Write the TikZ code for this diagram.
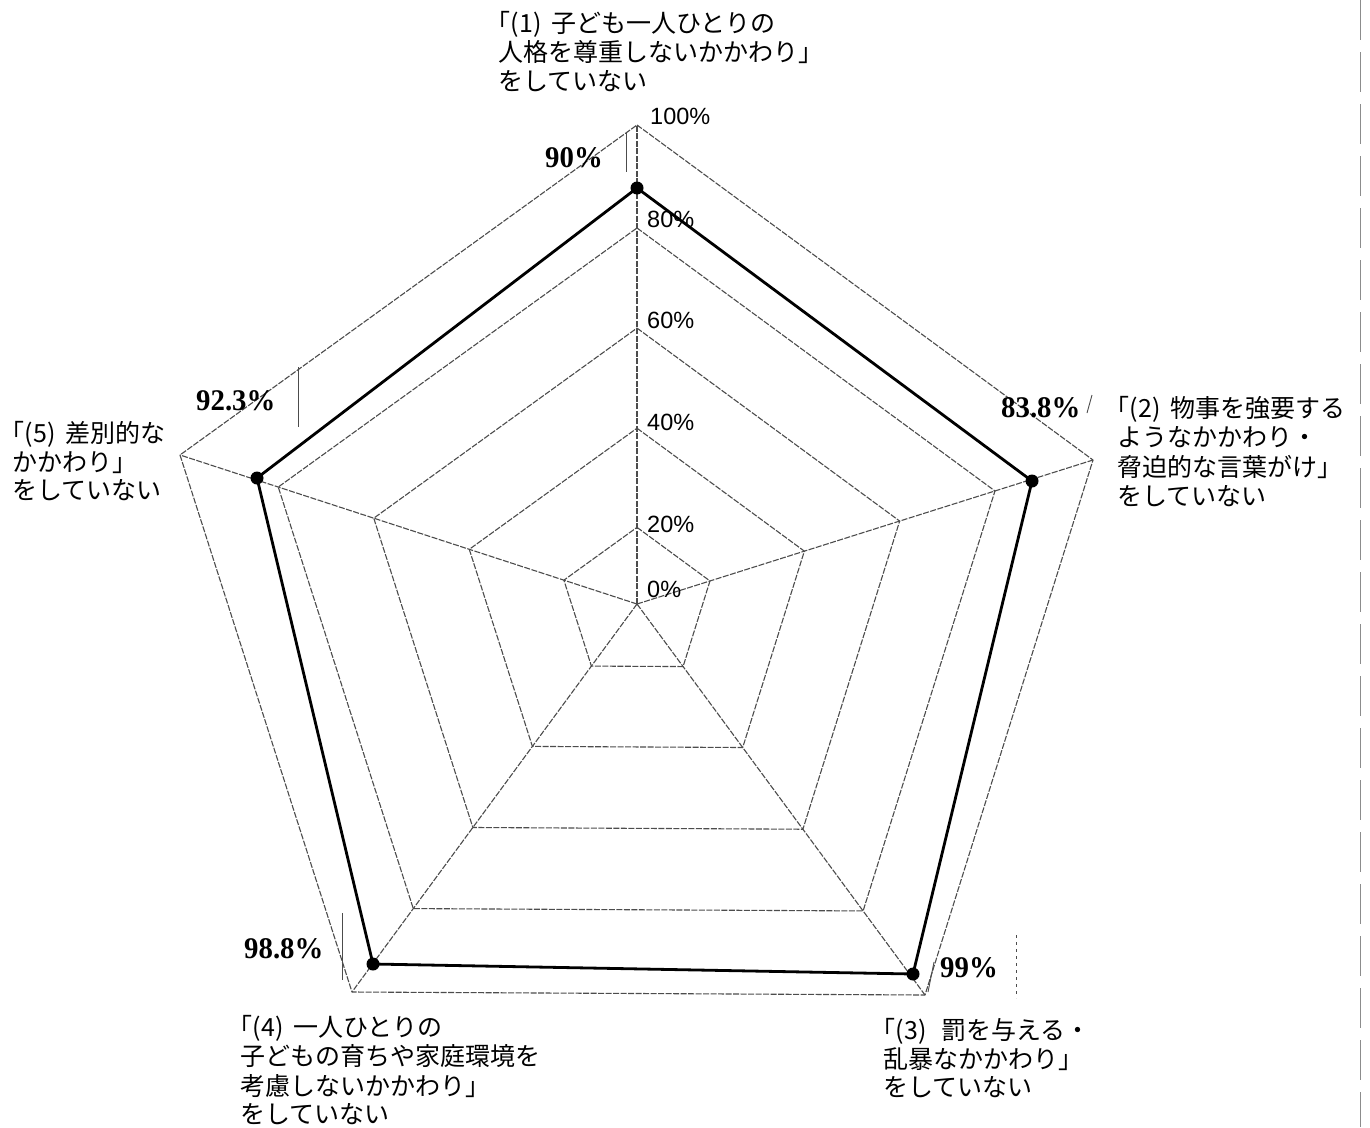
\documentclass[tikz,border=0pt]{standalone}
\usepackage{fontspec}
\usepackage{graphicx}
\setmainfont{Liberation Serif}
\newfontfamily\jp{Noto Sans CJK JP}
\newfontfamily\axisfont{Liberation Sans}
\newfontfamily\valfont{Liberation Serif}
\usetikzlibrary{calc}
\tikzset{
  gridline/.style={black!70, line width=1.1pt, dash pattern=on 6pt off 1.5pt, line join=round},
  dataline/.style={black, line width=2.8pt, line join=round},
  datapt/.style={circle, fill=black, inner sep=0pt, minimum size=13pt},
  jplabel/.style={font=\jp\fontsize{25}{#1}\selectfont, anchor=base west, inner sep=0pt},
  jplabel/.default=28.5,
  axislab/.style={font=\axisfont\fontsize{23.5}{26}\selectfont, anchor=base west, inner sep=0pt},
  vallab/.style={font=\valfont\bfseries\fontsize{30}{32}\selectfont, anchor=base west, inner sep=0pt},
  artifact/.style={black!70, line width=0.9pt},
}
\newcommand{\vallabel}[1]{\scalebox{0.96}[1]{#1}}
\begin{document}
\begin{tikzpicture}[x=1pt,y=-1pt]
\useasboundingbox[fill=white] (0,0) rectangle (1370,1127);

% axes geometry
\coordinate (C) at (637,604);
\coordinate (A1) at (637,125);
\coordinate (A2) at (1093,460);
\coordinate (A3) at (925,995);
\coordinate (A4) at (352,992);
\coordinate (A5) at (180,455);

% rings
\foreach \f in {0.16,0.367,0.576,0.785,1}{
  \draw[gridline] ($(C)!\f!(A1)$) -- ($(C)!\f!(A2)$) -- ($(C)!\f!(A3)$)
     -- ($(C)!\f!(A4)$) -- ($(C)!\f!(A5)$) -- cycle;
}
% spokes
\foreach \i in {1,...,5}{
  \draw[gridline] (C) -- (A\i);
}

% axis tick labels
\node[axislab] (t100) at (650,124) {100\%};
\node[axislab] (t80)  at (647,227) {80\%};
\node[axislab] (t60)  at (647,328) {60\%};
\node[axislab] (t40)  at (647,430) {40\%};
\node[axislab] (t20)  at (647,532) {20\%};
\node[axislab] (t0)   at (647,597) {0\%};

% data
\node[datapt] (P1) at (637,188) {};
\node[datapt] (P2) at (1032,481) {};
\node[datapt] (P3) at (913,974) {};
\node[datapt] (P4) at (373,964) {};
\node[datapt] (P5) at (257,478) {};
\draw[dataline] (P1.center) -- (P2.center) -- (P3.center) -- (P4.center) -- (P5.center) -- (P1.center);

% value labels
\node[vallab] (v1) at (545,167) {\vallabel{90\%}};
\node[vallab] (v2) at (1001,417) {\vallabel{83.8\%}};
\node[vallab] (v3) at (940,977) {\vallabel{99\%}};
\node[vallab] (v4) at (244,958) {\vallabel{98.8\%}};
\node[vallab] (v5) at (196,410) {\vallabel{92.3\%}};

% category labels
\node[jplabel=28] (c1) at (498,32.5) {\begin{tabular}[t]{@{}l@{}}\hspace*{-.5em}「(1)\hspace{.4em}子ども一人ひとりの\\人格を尊重しないかかわり」\\をしていない\end{tabular}};
\node[jplabel=29] (c2) at (1117,417.5) {\begin{tabular}[t]{@{}l@{}}\hspace*{-.5em}「(2)\hspace{.4em}物事を強要する\\ようなかかわり・\\脅迫的な言葉がけ」\\をしていない\end{tabular}};
\node[jplabel=27.6] (c3) at (883,1039.5) {\begin{tabular}[t]{@{}l@{}}\hspace*{-.5em}「(3)\hspace{.6em}罰を与える・\\乱暴なかかわり」\\をしていない\end{tabular}};
\node[jplabel=27.7] (c4) at (240,1036.5) {\begin{tabular}[t]{@{}l@{}}\hspace*{-.5em}「(4)\hspace{.4em}一人ひとりの\\子どもの育ちや家庭環境を\\考慮しないかかわり」\\をしていない\end{tabular}};
\node[jplabel=28.5] (c5) at (12,442.5) {\begin{tabular}[t]{@{}l@{}}\hspace*{-.5em}「(5)\hspace{.4em}差別的な\\かかわり」\\をしていない\end{tabular}};

% scan marks
\draw[artifact] (626,132) -- (626,172);
\draw[artifact] (298,367) -- (298,427);
\draw[artifact] (342,913) -- (342,980);
\draw[artifact] (934,962) -- (928,992);
\draw[artifact] (1092,395) -- (1087,413);
\draw[artifact, dash pattern=on 3pt off 4pt] (1016,935) -- (1016,998);
\draw[black!45, line width=0.8pt, dash pattern=on 40pt off 12pt] (1360,0) -- (1360,1127);
\end{tikzpicture}
\end{document}
